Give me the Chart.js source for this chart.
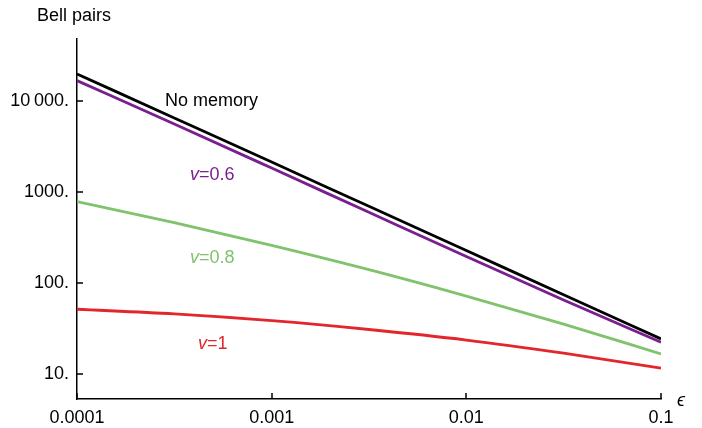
<!DOCTYPE html>
<html>
<head>
<meta charset="utf-8">
<script src="https://cdn.jsdelivr.net/npm/chart.js@4.4.1/dist/chart.umd.min.js"></script>
<style>
  html, body { margin: 0; padding: 0; background: #fff; }
  canvas { display: block; }
</style>
</head>
<body>
<canvas id="chart" width="702" height="428"></canvas>
<script>
// epsilon values (half decades) and Bell pairs
const epsilon = [0.0001, 0.000316, 0.001, 0.00316, 0.01, 0.0316, 0.1];
const noMemory = [19800, 6500, 2130, 695, 227, 74.2, 24.3];
const memory06 = [16700, 5580, 1830, 597, 195, 65, 22.3];
const memory08 = [782, 460, 259, 140, 71.8, 35.3, 16.6];
const memory1 = [51.4, 45.7, 38.5, 30.8, 23.6, 16.9, 11.6];

// axis ticks
const xTicks = [0.0001, 0.001, 0.01, 0.1];
const xTickLabels = ['0.0001', '0.001', '0.01', '0.1'];
const yTicks = [10, 100, 1000, 10000];
const yTickLabels = ['10.', '100.', '1000.', '10\u2009000.'];

const FONT = '"Liberation Sans", Arial, sans-serif';
Chart.defaults.font.family = FONT;
Chart.defaults.font.size = 18;
Chart.defaults.color = '#000';

function toPoints(values) {
    return epsilon.map((x, i) => ({ x: x, y: values[i] }));
}

function series(values, color) {
    return {
        data: toPoints(values),
        borderColor: color,
        borderWidth: 2.8,
        pointRadius: 0,
        fill: false,
        cubicInterpolationMode: 'monotone'
    };
}

// inward tick marks plus the curve labels
const decorations = {
    id: 'decorations',
    afterDraw(chart) {
        const ctx = chart.ctx;
        const xs = chart.scales.x;
        const ys = chart.scales.y;
        const area = chart.chartArea;
        ctx.save();
        ctx.strokeStyle = '#000';
        ctx.lineWidth = 1.5;
        ctx.beginPath();
        xTicks.forEach(v => {
            const px = Math.round(xs.getPixelForValue(v));
            ctx.moveTo(px, area.bottom);
            ctx.lineTo(px, area.bottom - 6);
        });
        yTicks.forEach(v => {
            const py = Math.round(ys.getPixelForValue(v));
            ctx.moveTo(area.left, py);
            ctx.lineTo(area.left + 6, py);
        });
        ctx.stroke();

        ctx.textBaseline = 'alphabetic';
        ctx.textAlign = 'left';
        ctx.font = '18px ' + FONT;
        ctx.fillStyle = '#000';
        ctx.fillText('Bell pairs', 37, 21);
        ctx.fillText('No memory', 165, 106);

        const vLabel = (rest, color, x, y) => {
            ctx.fillStyle = color;
            ctx.font = 'italic 18px ' + FONT;
            ctx.fillText('v', x, y);
            const w = ctx.measureText('v').width;
            ctx.font = '18px ' + FONT;
            ctx.fillText(rest, x + w, y);
        };
        vLabel('=0.6', '#7a1f8f', 190, 180);
        vLabel('=0.8', '#80c26e', 190, 263);
        vLabel('=1', '#e3262b', 198, 349);

        ctx.fillStyle = '#000';
        ctx.font = 'italic 18px ' + FONT;
        ctx.fillText('\u03f5', 677, 406);
        ctx.restore();
    }
};

new Chart(document.getElementById('chart'), {
    type: 'line',
    data: {
        datasets: [
            series(noMemory, '#000000'),
            series(memory06, '#7a1f8f'),
            series(memory08, '#80c26e'),
            series(memory1, '#e3262b')
        ]
    },
    options: {
        responsive: false,
        animation: false,
        layout: { padding: { top: 39, right: 41, left: 0, bottom: 0 } },
        plugins: {
            legend: { display: false },
            tooltip: { enabled: false }
        },
        scales: {
            x: {
                type: 'logarithmic',
                bounds: 'data',
                min: 0.0001,
                max: 0.1,
                grid: { display: false, drawTicks: false },
                border: { display: true, color: '#000', width: 1.5 },
                afterBuildTicks: scale => {
                    scale.ticks = xTicks.map(v => ({ value: v }));
                },
                afterFit: scale => {
                    scale.height = 29;
                },
                ticks: {
                    padding: 8,
                    maxRotation: 0,
                    autoSkip: false,
                    callback: (value, index) => xTickLabels[index]
                }
            },
            y: {
                type: 'logarithmic',
                bounds: 'data',
                min: 5.31,
                max: 47900,
                grid: { display: false, drawTicks: false },
                border: { display: true, color: '#000', width: 1.5 },
                afterBuildTicks: scale => {
                    scale.ticks = yTicks.map(v => ({ value: v }));
                },
                afterFit: scale => {
                    scale.width = 77;
                },
                ticks: {
                    padding: 8,
                    autoSkip: false,
                    callback: (value, index) => yTickLabels[index]
                }
            }
        }
    },
    plugins: [decorations]
});
</script>
</body>
</html>
